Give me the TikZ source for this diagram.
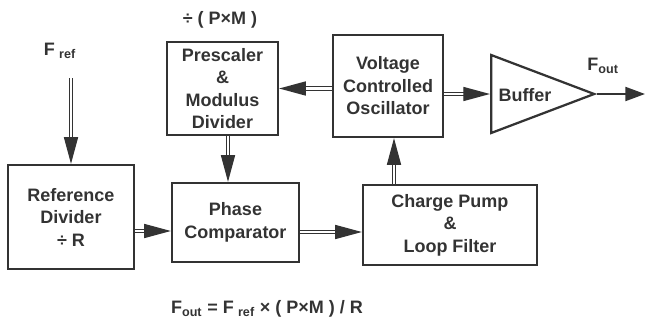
\documentclass[tikz,border=0pt]{standalone}
\usepackage{fontspec}
\setmainfont{Liberation Sans}
\usetikzlibrary{arrows.meta,shapes.geometric}
\definecolor{ink}{HTML}{333333}

\begin{document}
\begin{tikzpicture}[x=0.025cm, y=-0.025cm, color=ink, text=ink,
    font=\bfseries\fontsize{12.8}{16}\selectfont,
    block/.style={draw, line width=1.6pt, align=center, inner sep=0pt},
    dbl/.style={double=white, double distance=1.5pt, line width=1pt,
        -{Triangle[length=19pt,width=10pt]}},
    sgl/.style={line width=1.4pt, -{Triangle[length=14pt,width=10pt]}}]
    \useasboundingbox (0,0) rectangle (645,323);

    % blocks
    \node[block, minimum width=3.15cm, minimum height=2.6cm] (refdiv) at (71,217) {Reference\\Divider\\\char"00F7\ R};
    \node[block, minimum width=3.175cm, minimum height=1.975cm] (phase) at (235.5,222.5) {Phase\\Comparator};
    \node[block, minimum width=4.35cm, minimum height=2cm] (pump) at (450,225) {Charge Pump\\\&\\Loop Filter};
    \node[block, minimum width=2.775cm, minimum height=2.325cm] (presc) at (222.5,88.5) {Prescaler\\\&\\Modulus\\Divider};
    \node[block, minimum width=2.75cm, minimum height=2.55cm] (vco) at (388,86) {Voltage\\Controlled\\Oscillator};
    \node[draw, line width=1.6pt, isosceles triangle, isosceles triangle stretches,
        minimum width=1.95cm, minimum height=2.575cm, inner sep=0pt, anchor=lower side] (buffer) at (490,94) {};
    \node (buftext) at (525,95) {Buffer};

    % labels
    \node (fref) at (60,51) {F\kern3pt\textsubscript{ref}};
    \node (fout) at (603,66) {F\textsubscript{out}};
    \node (pxm) at (220,20) {\char"00F7\ ( P\char"00D7M )};
    \node (formula) at (267,309) {F\textsubscript{out} = F\kern3pt\textsubscript{ref} \char"00D7\ ( P\char"00D7M ) / R};

    \coordinate (fin) at (71,78);
    \coordinate (out) at (645,94);
    \coordinate (lvlA) at (0,231);
    \coordinate (lvlB) at (0,232);
    \coordinate (colA) at (228,0);
    \coordinate (colB) at (394,0);

    % connectors
    \draw[dbl] (fin) -- (refdiv.north -| fin);
    \draw[dbl] (refdiv.east |- lvlA) -- (phase.west |- lvlA);
    \draw[dbl] (presc.south -| colA) -- (phase.north -| colA);
    \draw[dbl] (phase.east |- lvlB) -- (pump.west |- lvlB);
    \draw[dbl] (pump.north -| colB) -- (vco.south -| colB);
    \draw[dbl] (vco.west |- presc) -- (presc.east);
    \draw[dbl] (vco.east |- buffer.lower side) -- (buffer.lower side);
    \draw[sgl] (buffer.apex) -- (out);
\end{tikzpicture}
\end{document}
